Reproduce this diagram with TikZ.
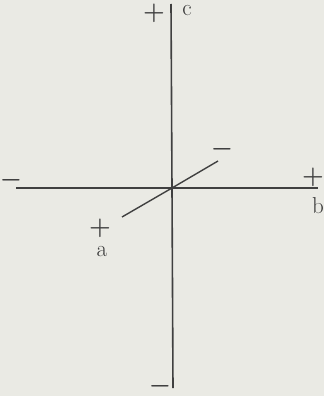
\documentclass[tikz,border=0pt]{standalone}
\begin{document}
\begin{tikzpicture}[x=1pt,y=-1pt,
  axis/.style={line width=1.6pt,draw=black!75},
  sign/.style={inner sep=0pt,text=black!75,font=\fontsize{24}{28}\selectfont\boldmath},
  lbl/.style={inner sep=0pt,text=black!78,font=\fontsize{23}{28}\selectfont}]
\definecolor{bg}{RGB}{234,234,228}
\fill[bg] (0,0) rectangle (324,396);
\useasboundingbox (0,0) rectangle (324,396);
\coordinate (O) at (172,188);
\coordinate (ct) at (171,4);
\coordinate (cb) at (173,388);
\coordinate (bl) at (16,188);
\coordinate (br) at (318,188);
\coordinate (al) at (122,217);
\coordinate (ar) at (218,161);
\draw[axis] (ct) -- (O) -- (cb);
\draw[axis] (bl) -- (O) -- (br);
\draw[axis,line width=1.4pt] (al) -- (O) -- (ar);
\node[sign] (pc) at (154,13) {$+$};
\node[lbl] (lc) at (187,11) {c};
\node[sign] (mb) at (11,180) {$-$};
\node[sign] (pb) at (313,177) {$+$};
\node[lbl] (lb) at (318,206) {b};
\node[sign] (ma) at (222,149) {$-$};
\node[sign] (pa) at (100,228) {$+$};
\node[lbl] (la) at (102,252) {a};
\node[sign] (mc) at (160,386) {$-$};
\end{tikzpicture}
\end{document}
